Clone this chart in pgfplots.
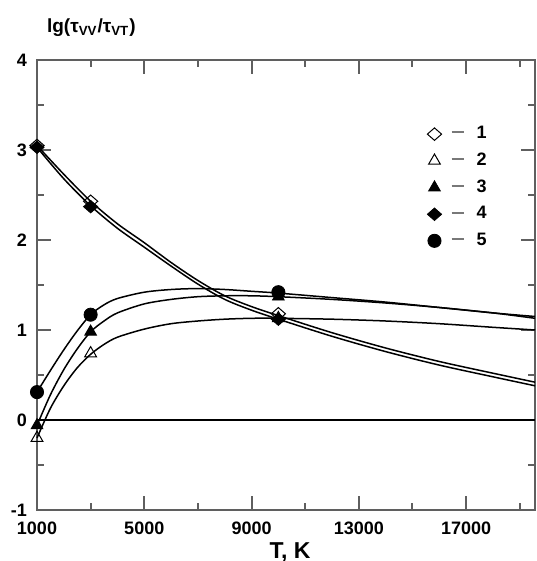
\documentclass[border=0pt]{standalone}
\usepackage{fontspec}
\setmainfont{Liberation Sans}
\usepackage{pgfplots}
\pgfplotsset{compat=1.18}

\begin{document}
\begin{tikzpicture}
\definecolor{axisgray}{RGB}{95,95,95}
\definecolor{dashgray}{RGB}{120,120,120}
\path[use as bounding box] (0,0) rectangle (268pt,280.5pt);
\begin{axis}[
at={(18.5pt,25.5pt)}, anchor=south west,
scale only axis, width=249pt, height=225pt,
xmin=1000, xmax=19570, ymin=-1, ymax=4,
clip=false,
axis line style={axisgray, line width=1pt},
tick style={axisgray, line width=1pt},
tick align=inside,
major tick length=7pt, minor tick length=3.5pt,
xtick={1000,5000,9000,13000,17000},
minor xtick={3000,7000,11000,15000,19000},
ytick={-1,0,1,2,3,4},
minor ytick={-0.5,0.5,1.5,2.5,3.5},
scaled x ticks=false,
/pgf/number format/1000 sep={},
/pgf/number format/assume math mode=true,
ticklabel style={font=\fontsize{9}{10}\selectfont\bfseries},
xticklabel style={yshift=-2.5pt},
yticklabel style={xshift=-1.5pt},
xlabel={T, K},
xlabel style={at={(rel axis cs:0.508,0)}, anchor=center, yshift=-21pt, font=\fontsize{11.5}{13}\selectfont\bfseries},
ylabel={lg(τ\textsubscript{VV}/τ\textsubscript{VT})},
every axis y label/.style={at={(rel axis cs:0,1)}, anchor=west, xshift=1.5pt, yshift=16pt, font=\fontsize{9.5}{11}\selectfont\bfseries},
legend style={draw=none, fill=none, at={(rel axis cs:0.771,0.871)}, anchor=north west,
  font=\fontsize{9}{10}\selectfont\bfseries, row sep=1.6pt},
legend cell align=left,
]
% zero line
\addplot[black, line width=0.6pt, forget plot] coordinates {(1000,0) (19570,0)};

% fitted curves
\addplot[black, line width=0.75pt, smooth, forget plot] coordinates {
(1000,3.05) (2000,2.73) (3000,2.43) (4000,2.18) (5000,1.97) (6000,1.75) (7000,1.55)
(8000,1.38) (9000,1.26) (10000,1.16) (12000,0.97) (14000,0.80) (16000,0.65) (18000,0.52) (19570,0.42)};
\addplot[black, line width=0.75pt, smooth, forget plot] coordinates {
(1000,3.03) (2000,2.68) (3000,2.38) (4000,2.13) (5000,1.92) (6000,1.71) (7000,1.51)
(8000,1.34) (9000,1.22) (10000,1.12) (12000,0.93) (14000,0.76) (16000,0.61) (18000,0.48) (19570,0.38)};
\addplot[black, line width=0.75pt, smooth, forget plot] coordinates {
(1000,0.31) (1500,0.55) (2000,0.78) (2500,0.99) (3000,1.17) (3500,1.28) (4000,1.35) (5000,1.42) (6000,1.45)
(7000,1.46) (8000,1.45) (9000,1.43) (10000,1.41) (12000,1.36) (14000,1.31) (16000,1.25) (18000,1.19) (19570,1.15)};
\addplot[black, line width=0.75pt, smooth, forget plot] coordinates {
(1000,-0.06) (1500,0.28) (2000,0.56) (2500,0.79) (3000,0.98) (3500,1.10) (4000,1.19) (5000,1.29) (6000,1.34)
(7000,1.37) (8000,1.38) (9000,1.38) (10000,1.37) (12000,1.34) (14000,1.30) (16000,1.25) (18000,1.19) (19570,1.13)};
\addplot[black, line width=0.75pt, smooth, forget plot] coordinates {
(1000,-0.20) (1500,0.13) (2000,0.38) (2500,0.58) (3000,0.73) (3500,0.84) (4000,0.92) (5000,1.01) (6000,1.07)
(7000,1.10) (8000,1.12) (9000,1.13) (10000,1.13) (12000,1.12) (14000,1.10) (16000,1.07) (18000,1.03) (19570,1.00)};

% markers
\addplot[only marks, mark=diamond, mark size=3.8pt, mark options={fill=white, draw=black, line width=0.5pt, xscale=1.25, yscale=0.82}]
coordinates {(1000,3.05) (3000,2.43) (10000,1.18)};
\addlegendentry{\hspace{3pt}\textcolor{dashgray}{\rule[2.7pt]{6pt}{1pt}}\hspace{6.5pt}1}
\addplot[only marks, mark=triangle, mark size=3.4pt, mark options={fill=white, draw=black, line width=0.5pt}]
coordinates {(1000,-0.20) (3000,0.74) (10000,1.13)};
\addlegendentry{\hspace{3pt}\textcolor{dashgray}{\rule[2.7pt]{6pt}{1pt}}\hspace{6.5pt}2}
\addplot[only marks, mark=triangle*, mark size=3.4pt, mark options={fill=black, draw=black}]
coordinates {(1000,-0.06) (3000,0.98) (10000,1.37)};
\addlegendentry{\hspace{3pt}\textcolor{dashgray}{\rule[2.7pt]{6pt}{1pt}}\hspace{6.5pt}3}
\addplot[only marks, mark=diamond*, mark size=3.8pt, mark options={fill=black, draw=black, xscale=1.25, yscale=0.82}]
coordinates {(1000,3.03) (3000,2.37) (10000,1.12)};
\addlegendentry{\hspace{3pt}\textcolor{dashgray}{\rule[2.7pt]{6pt}{1pt}}\hspace{6.5pt}4}
\addplot[only marks, mark=*, mark size=3.3pt, mark options={fill=black, draw=black}]
coordinates {(1000,0.31) (3000,1.17) (10000,1.42)};
\addlegendentry{\hspace{3pt}\textcolor{dashgray}{\rule[2.7pt]{6pt}{1pt}}\hspace{6.5pt}5}
\end{axis}
\end{tikzpicture}
\end{document}
